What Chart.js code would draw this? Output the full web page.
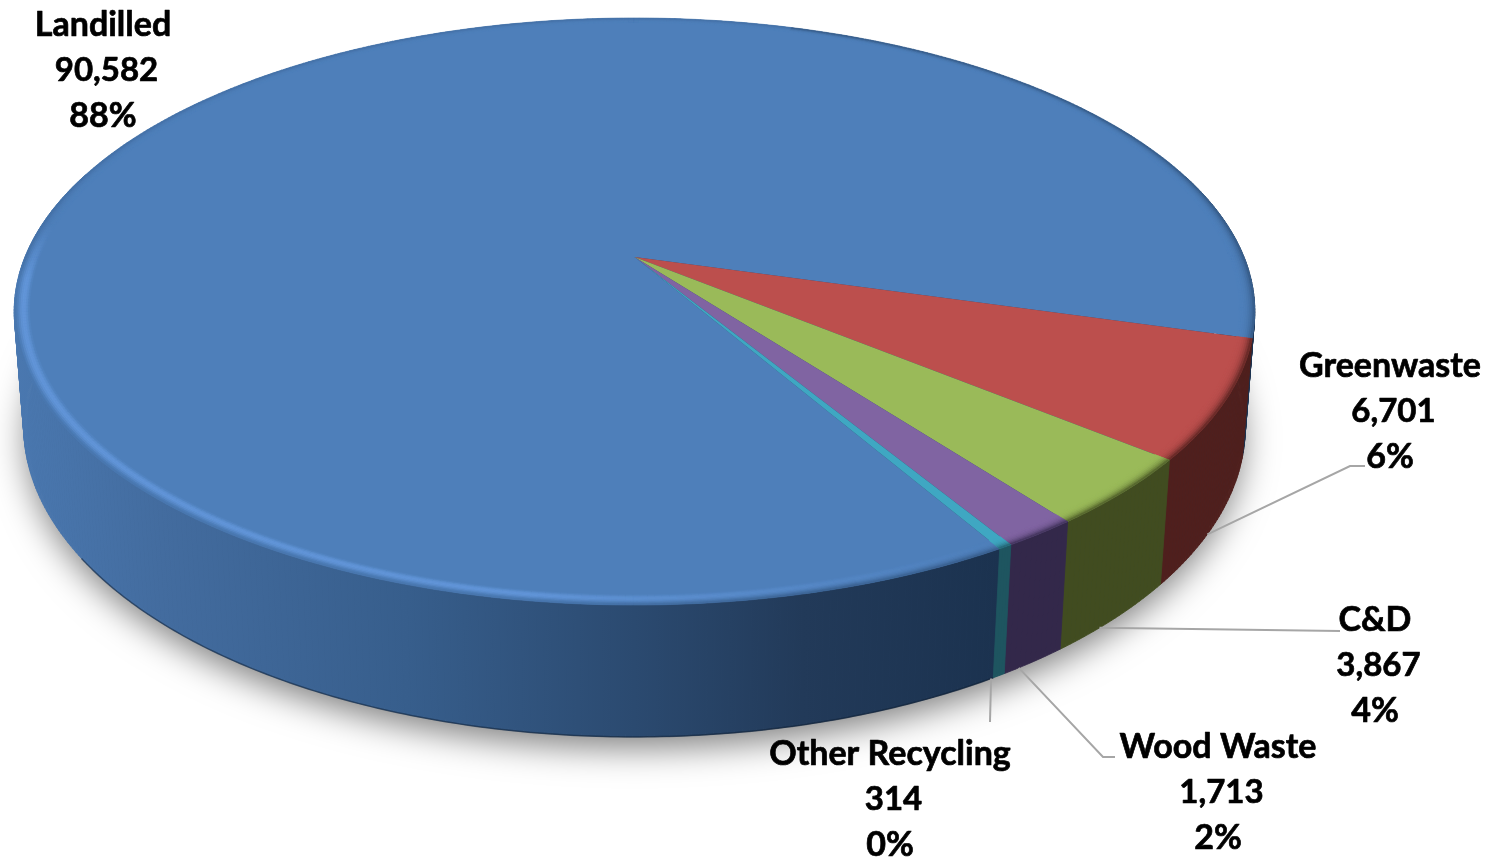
<!DOCTYPE html>
<html lang="en">
<head>
    <meta charset="UTF-8">
    <title>Waste Breakdown</title>
    <script src="https://cdn.jsdelivr.net/npm/chart.js"></script>
    <style>
        html, body { margin: 0; padding: 0; background: #fff; }
        canvas { display: block; }
    </style>
</head>
<body>
    <canvas id="wasteChart" width="1503" height="859"></canvas>

    <script>
        // Data
        const categories = ['Landilled', 'Greenwaste', 'C&D', 'Wood Waste', 'Other Recycling'];
        const tonnes = [90582, 6701, 3867, 1713, 314];

        const faceColors = ['#4e7fba', '#bc4f4d', '#9aba59', '#8064a2', '#3fa7c2'];
        const wallColors = ['#2b4a70', '#4f1f1d', '#414c20', '#33284a', '#1e5560'];
        const blueWallStops = [[0, '#4a78b0'], [0.15, '#436c9f'], [0.4, '#375e8c'], [0.63, '#2b4a70'], [0.8, '#223a59'], [1, '#1b324f']];

        // Label centres and leader line ends, same order as categories
        const labelCentres = [[103, 25], [1390, 366], [1375, 620], [1218, 747], [890, 754]];
        const leaderEnds = [null, [[1350, 466], [1365, 466]], [[1340, 631]], [[1103, 757], [1115, 757]], [[990, 722]]];
        const leaderAlong = [0, 0.6, 0.65, 0.75, 1.2];

        // Tilt and perspective of the disc
        const TILT = 0.465, PERSP = 0.1857, DEPTH = 0.188, SHRINK = 0.015;

        function project(el, angle, radial, h) {
            const u = Math.cos(angle) * radial, v = Math.sin(angle) * radial;
            const w = 1 - PERSP * v + SHRINK * h;
            const R = el.outerRadius;
            return [el.x + R * u / w, el.y + R * (TILT * v + DEPTH * h) / w];
        }

        function hexToRgb(hex) {
            return [1, 3, 5].map(i => parseInt(hex.slice(i, i + 2), 16));
        }
        function mix(a, b, t) {
            return a.map((c, i) => c + (b[i] - c) * t);
        }
        function clamp01(x) { return Math.max(0, Math.min(1, x)); }

        function tracePath(ctx, pts) {
            pts.forEach((p, i) => i ? ctx.lineTo(p[0], p[1]) : ctx.moveTo(p[0], p[1]));
        }

        class Arc3D extends Chart.ArcElement {
            static id = 'arc3d';

            drawWall(ctx, i, angles) {
                let paint = wallColors[i];
                if (i === 0) {
                    paint = ctx.createLinearGradient(13, 0, 1000, 0);
                    blueWallStops.forEach(s => paint.addColorStop(s[0], s[1]));
                }
                ctx.fillStyle = paint;
                ctx.strokeStyle = paint;
                ctx.lineWidth = 0.8;
                // one quad per step, the band folds over itself at the sides of the disc
                for (let k = 0; k + 1 < angles.length; k++) {
                    const a = angles[k], b = angles[k + 1];
                    if (Math.sin(a) < -0.3) continue;
                    ctx.beginPath();
                    tracePath(ctx, [project(this, a, 1, 0), project(this, b, 1, 0), project(this, b, 1, 1), project(this, a, 1, 1)]);
                    ctx.closePath();
                    ctx.fill();
                    ctx.stroke();
                }
                if (i === 0) {
                    const edge = angles.map(a => project(this, a, 1, 1)).filter(p => p[1] > this.y + 300);
                    ctx.beginPath();
                    tracePath(ctx, edge);
                    ctx.strokeStyle = 'rgba(10,25,45,0.5)';
                    ctx.lineWidth = 1.5;
                    ctx.stroke();
                }
            }

            draw(ctx) {
                const i = this.$context.dataIndex;
                const a0 = this.startAngle, a1 = this.endAngle;
                const n = Math.max(4, Math.ceil((a1 - a0) / 0.01));
                const angles = [];
                for (let k = 0; k <= n; k++) angles.push(a0 + (a1 - a0) * k / n);

                ctx.save();
                this.drawWall(ctx, i, angles);

                // top face
                ctx.beginPath();
                tracePath(ctx, [[this.x, this.y]].concat(angles.map(a => project(this, a, 1, 0))));
                ctx.closePath();
                ctx.fillStyle = faceColors[i];
                ctx.fill();

                // rounded rim: lit from the left on the blue slice, fading into the wall
                const face = hexToRgb(faceColors[i]);
                const wall = hexToRgb(wallColors[i]);
                const light = [100, 152, 220];
                const layers = 8, band = 0.024;
                for (let k = 0; k < n; k++) {
                    const a = angles[k], b = angles[k + 1];
                    const mid = (a + b) / 2;
                    const cu = Math.cos(mid), sv = Math.sin(mid);
                    let lit = i === 0 ? clamp01((0.55 - cu) / 0.7) * clamp01((sv + 0.12) / 0.2) : 0;
                    let shade = 0.3 + 0.6 * clamp01((sv + 0.1) / 0.3);
                    if (i === 0 && cu > 0.3) shade = 0.75;
                    for (let l = 0; l < layers; l++) {
                        const t = (l + 0.5) / layers;
                        let c = mix(face, light, lit * Math.sin(Math.PI * Math.min(t * 1.1, 1)));
                        c = mix(c, i === 0 ? mix(wall, face, clamp01(lit * 0.8)) : wall, shade * Math.pow(t, 3));
                        const r0 = 1 - band * (1 - l / layers), r1 = 1 - band * (1 - (l + 1) / layers);
                        ctx.beginPath();
                        tracePath(ctx, [project(this, a, r0, 0), project(this, b, r0, 0), project(this, b, r1, 0), project(this, a, r1, 0)]);
                        ctx.closePath();
                        const css = `rgb(${c.map(Math.round).join(',')})`;
                        ctx.fillStyle = css;
                        ctx.strokeStyle = css;
                        ctx.lineWidth = 0.6;
                        ctx.fill();
                        ctx.stroke();
                    }
                }
                ctx.restore();
            }
        }

        class Pie3DController extends Chart.PieController {
            static id = 'pie3d';
            static defaults = { dataElementType: 'arc3d' };
        }

        Chart.register(Arc3D, Pie3DController);

        // Soft shadow under the disc
        const groundShadow = {
            id: 'groundShadow',
            beforeDatasetsDraw(chart) {
                const arcs = chart.getDatasetMeta(0).data;
                const ctx = chart.ctx, el = arcs[0];
                const pts = [];
                for (let k = 0; k <= 180; k++) pts.push(project(el, k / 180 * Math.PI * 2, 0.995, 1));
                ctx.save();
                ctx.shadowColor = 'rgba(0,0,0,0.5)';
                ctx.shadowBlur = 34;
                ctx.shadowOffsetY = 13;
                ctx.fillStyle = '#2b4a70';
                ctx.beginPath();
                tracePath(ctx, pts);
                ctx.closePath();
                ctx.fill();
                ctx.restore();
            }
        };

        // Leader lines and the three line labels
        const sliceLabels = {
            id: 'sliceLabels',
            afterDatasetsDraw(chart) {
                const ctx = chart.ctx;
                const arcs = chart.getDatasetMeta(0).data;
                const total = tonnes.reduce((s, v) => s + v, 0);
                ctx.save();
                ctx.strokeStyle = '#a6a6a6';
                ctx.lineWidth = 2;
                arcs.forEach((el, i) => {
                    if (!leaderEnds[i]) return;
                    const along = el.startAngle + (el.endAngle - el.startAngle) * leaderAlong[i];
                    const start = project(el, along, 1, 1);
                    ctx.beginPath();
                    tracePath(ctx, [start].concat(leaderEnds[i]));
                    ctx.stroke();
                });
                ctx.fillStyle = '#000';
                ctx.strokeStyle = '#000';
                ctx.lineWidth = 0.7;
                ctx.lineJoin = 'round';
                ctx.textAlign = 'center';
                ctx.textBaseline = 'middle';
                categories.forEach((name, i) => {
                    const [x, y] = labelCentres[i];
                    const lines = [name, tonnes[i].toLocaleString('en-US'), Math.round(tonnes[i] / total * 100) + '%'];
                    lines.forEach((line, k) => {
                        // the numbers sit a little right of the other two lines in the original
                        const lx = k === 1 ? x + 3.5 : x;
                        ctx.font = k === 1 ? 'bold 33px Lato' : 'bold 34px Lato';
                        ctx.fillText(line, lx, y + k * 45.5);
                        ctx.strokeText(line, lx, y + k * 45.5);
                    });
                });
                ctx.restore();
            }
        };

        const ctx = document.getElementById('wasteChart').getContext('2d');
        const wasteChart = new Chart(ctx, {
            type: 'pie3d',
            data: {
                labels: categories,
                datasets: [{
                    data: tonnes,
                    backgroundColor: faceColors,
                    borderWidth: 0
                }]
            },
            options: {
                responsive: false,
                animation: false,
                radius: 609.5,
                rotation: 149.8,
                layout: { padding: { left: 0, right: 234, top: 0, bottom: 345 } },
                plugins: {
                    legend: { display: false },
                    tooltip: { enabled: false }
                }
            },
            plugins: [groundShadow, sliceLabels]
        });
    </script>
</body>
</html>
